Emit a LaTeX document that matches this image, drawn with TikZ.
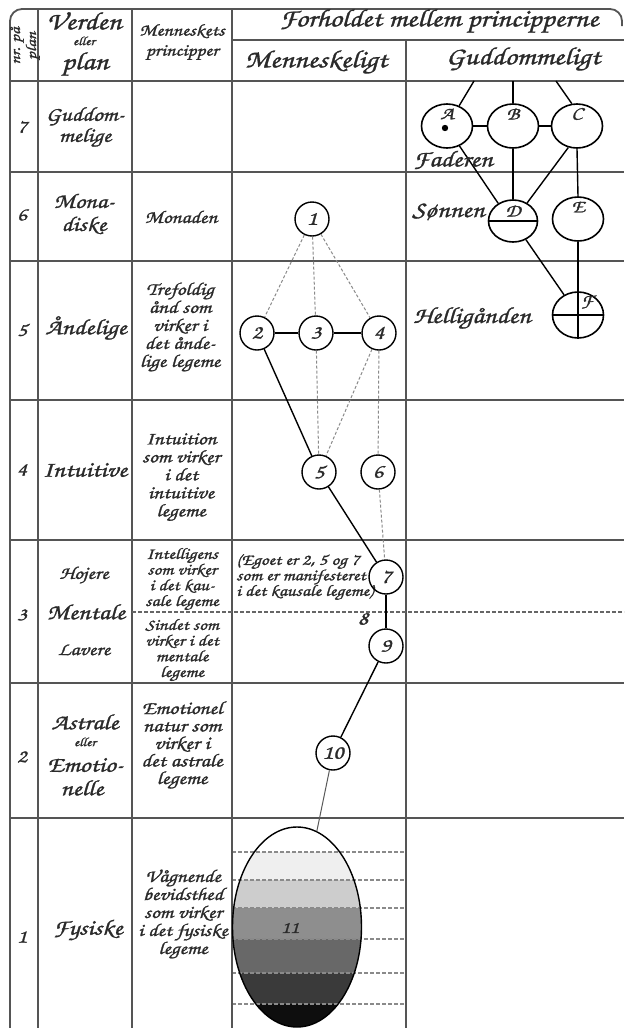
\documentclass[tikz,border=0pt]{standalone}
\usepackage{fontspec}
\usetikzlibrary{shapes.geometric}
\IfFontExistsTF{texgyrechorus-mediumitalic.otf}
 {\newfontfamily\calf{texgyrechorus-mediumitalic.otf}[FakeStretch=1.2,FakeBold=1.2]}
 {\newcommand\calf{\itshape}}
\definecolor{gridc}{HTML}{555555}
\definecolor{txt}{HTML}{2A2A2A}
\definecolor{dsh}{HTML}{8A8A8A}
\newcommand\fs[2]{\fontsize{#1}{#2}\selectfont}
\begin{document}
\begin{tikzpicture}[x=1pt,y=-1pt,
 grid/.style={draw=gridc,line width=1.8pt},
 lbl/.style={text=txt,inner sep=0pt,align=center},
 big/.style={lbl,font=\calf\fs{25}{27}},
 rowname/.style={lbl,font=\calf\fs{22}{22}},
 sub/.style={lbl,font=\calf\fs{18}{18}},
 tinyl/.style={lbl,font=\calf\fs{12.5}{13}},
 num/.style={lbl,font=\calf\fs{19}{19}},
 col/.style={lbl,font=\calf\fs{18}{18}},
 colsm/.style={lbl,font=\calf\fs{16}{15.7}},
 hc/.style={circle,draw=black,line width=1.4pt,minimum size=34pt,inner sep=0pt,text=txt,font=\calf\fs{20}{20}},
 gel/.style={ellipse,draw=black,line width=1.6pt,minimum width=51pt,minimum height=44pt,inner sep=0pt},
 letter/.style={lbl,font=\calf\fs{18}{18}},
 conn/.style={draw=black,line width=1.4pt},
 dconn/.style={draw=dsh,line width=1pt,dash pattern=on 3pt off 2pt},
 glab/.style={lbl,anchor=west,font=\calf\fs{23}{23}}
]
\useasboundingbox[fill=white] (0,0) rectangle (624,1028);

% ---------- shaded ellipse (physical body) ----------
\begin{scope}
\clip (297,927) ellipse [x radius=64.5, y radius=100];
\fill[white] (230,820) rectangle (365,852);
\fill[fill={rgb,255:red,239;green,239;blue,239}] (230,852) rectangle (365,880);
\fill[fill={rgb,255:red,205;green,205;blue,205}] (230,880) rectangle (365,908);
\fill[fill={rgb,255:red,142;green,142;blue,142}] (230,908) rectangle (365,939);
\fill[fill={rgb,255:red,104;green,104;blue,104}] (230,939) rectangle (365,973);
\fill[fill={rgb,255:red,58;green,58;blue,58}] (230,973) rectangle (365,1004);
\fill[fill={rgb,255:red,14;green,14;blue,14}] (230,1004) rectangle (365,1030);
\end{scope}
\foreach \yy in {852,880,908,939,973,1004}
  \draw[dconn,line width=1.2pt,dash pattern=on 4pt off 2pt] (232,\yy) -- (406,\yy);

% ---------- grid ----------
\draw[grid,rounded corners=12pt] (10,1028) -- (10,9) -- (622,9) -- (622,26);
\draw[grid] (38,9) -- (38,1028);
\draw[grid] (132,9) -- (132,1028);
\draw[grid] (232,9) -- (232,1028);
\draw[grid] (406,40) -- (406,1028);
\draw[grid] (232,40) -- (624,40);
\foreach \yy in {81,172,261,400,540,683,818}
  \draw[grid] (10,\yy) -- (624,\yy);
\draw[draw=gray!80!black,line width=1.1pt,dash pattern=on 4pt off 2pt] (132,612) -- (624,612);

% ---------- header ----------
\node[lbl,rotate=90,font=\calf\fs{15}{16}] (nrpl) at (25,46) {nr. på\\plan};
\node[big] (verden) at (84,21) {Verden};
\node[tinyl] (eller1) at (84,41) {eller};
\node[big] (plan) at (85,64) {plan};
\node[lbl,font=\calf\fs{17}{20}] (mp) at (182,42) {Menneskets\\principper};
\node[big] (forh) at (439,21) {Forholdet mellem principperne};
\node[big] (menn) at (316,62) {Menneskeligt};
\node[big] (gudd) at (523,59) {Guddommeligt};

% ---------- row numbers ----------
\node[num] (n7) at (22,127) {7};
\node[num] (n6) at (22,215) {6};
\node[num] (n5) at (22,330) {5};
\node[num] (n4) at (22,470) {4};
\node[num] (n3) at (22,615) {3};
\node[num] (n2) at (22,757) {2};
\node[num] (n1) at (22,937) {1};

% ---------- plane names ----------
\node[rowname,font=\calf\fs{20}{21}] (p7) at (85,127) {Guddom-\\melige};
\node[rowname,font=\calf\fs{21}{23}] (p6) at (84,214) {Mona-\\diske};
\node[rowname] (p5) at (86,328) {Åndelige};
\node[rowname] (p4) at (85,470) {Intuitive};
\node[sub] (p3a) at (84,575) {Hojere};
\node[rowname] (p3) at (86,612) {Mentale};
\node[sub] (p3b) at (84,650) {Lavere};
\node[rowname] (p2a) at (85,722) {Astrale};
\node[tinyl] (p2e) at (85,742) {eller};
\node[rowname] (p2b) at (85,765) {Emotio-};
\node[rowname] (p2c) at (82,788) {nelle};
\node[rowname] (p1) at (88,930) {Fysiske};

% ---------- principles ----------
\node[col] (c6) at (181,217) {Monaden};
\node[col] (c5) at (180,327) {Trefoldig\\ånd som\\virker i\\det ånde-\\lige legeme};
\node[col] (c4) at (181,477) {Intuition\\som virker\\i det\\intuitive\\legeme};
\node[colsm] (c3a) at (182,579) {Intelligens\\som virker\\i det kau-\\sale legeme};
\node[colsm] (c3b) at (182,650) {Sindet som\\virker i det\\mentale\\legeme};
\node[lbl,font=\calf\fs{18.5}{17.5}] (c2) at (182,745) {Emotionel\\natur som\\virker i\\det astrale\\legeme};
\node[col] (c1) at (183,914) {Vågnende\\bevidsthed\\som virker\\i det fysiske\\legeme};

% ---------- human principles ----------
\node[lbl,anchor=west,align=left,font=\calf\fs{16}{15.5}] (ego) at (236,577) {(Egoet er 2, 5 og 7\\som er manifesteret\\i det kausale legeme)};
\node[hc] (h1) at (312,219) {1};
\node[hc] (h2) at (257,333) {2};
\node[hc] (h3) at (316,333) {3};
\node[hc] (h4) at (379,333) {4};
\node[hc] (h5) at (319,472) {5};
\node[hc] (h6) at (378,472) {6};
\node[hc] (h7) at (386,577) {7};
\node[lbl,font=\calf\fs{20}{20}] (h8) at (363,619) {8};
\node[hc] (h9) at (386,646) {9};
\node[hc] (h10) at (333,753) {10};
\node[ellipse,draw=black,line width=1.4pt,minimum width=129pt,minimum height=200pt,inner sep=0pt] (h11) at (297,927) {};
\node[lbl,font=\calf\fs{17}{17}] (h11t) at (290,928) {11};

\draw[conn] (h2) -- (h3);
\draw[conn] (h3) -- (h4);
\draw[conn] (h2) -- (h5);
\draw[conn] (h5) -- (h7);
\draw[conn] (h7) -- (h9);
\draw[conn] (h9) -- (h10);
\draw[conn,line width=1pt,draw=gray!70!black] (h10) -- (h11);
\draw[dconn] (h1) -- (h2);
\draw[dconn] (h1) -- (h3);
\draw[dconn] (h1) -- (h4);
\draw[dconn] (h3) -- (h5);
\draw[dconn] (h4) -- (h5);
\draw[dconn] (h4) -- (h6);
\draw[dconn] (h6) -- (h7);

% ---------- divine principles ----------
\node[gel] (A) at (447,126) {};
\node[gel] (B) at (513,126) {};
\node[gel] (C) at (577,126) {};
\node[gel,minimum width=49pt,minimum height=42pt] (D) at (513,221) {};
\node[gel] (E) at (578,219) {};
\node[gel,minimum height=46pt] (F) at (578,315) {};
\coordinate (hA) at (474,81);
\coordinate (hB) at (513,81);
\coordinate (hC) at (556,81);
\fill[black] (445,128) circle[radius=3.2pt];
\node[letter] (lA) at (447,114) {A};
\node[letter] (lB) at (513,114) {B};
\node[letter] (lC) at (577,114) {C};
\node[letter] (lD) at (513,211) {D};
\node[letter] (lE) at (578,207) {E};
\node[letter] (lF) at (587,302) {F};
\draw[conn] (A) -- (hA);
\draw[conn] (B) -- (hB);
\draw[conn] (C.103) -- (hC);
\draw[conn] (A) -- (B);
\draw[conn] (B) -- (C);
\draw[conn] (A.-58) -- (D.130);
\draw[conn] (B) -- (D);
\draw[conn] (C.-112) -- (D.52);
\draw[conn] (C.south) -- (E.north);
\draw[conn] (D) -- (F);
\draw[conn] (E) -- (F);
\draw[conn] (D.west) -- (D.east);
\draw[conn] (F.west) -- (F.east);
\draw[conn] (F.north) -- (F.south);
\node[glab] (fad) at (413,160) {Faderen};
\node[glab] (son) at (412,212) {Sønnen};
\node[glab] (hel) at (413,318) {Helligånden};
\end{tikzpicture}
\end{document}
